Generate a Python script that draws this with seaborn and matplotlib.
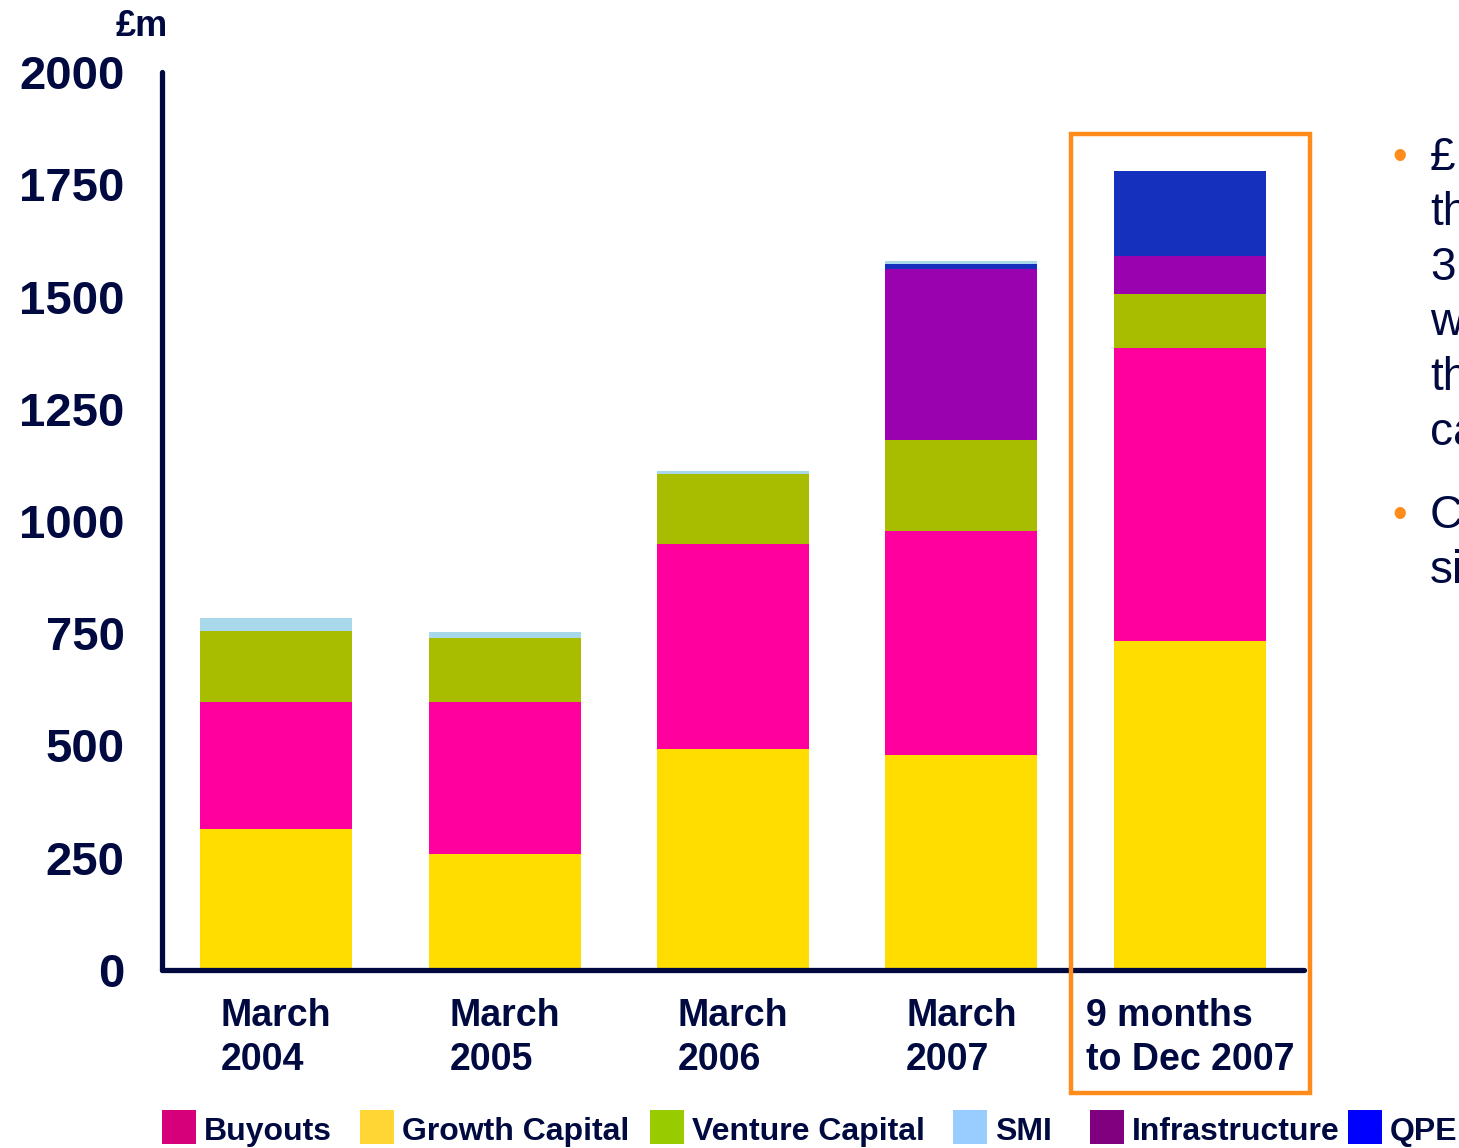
import numpy as np
import pandas as pd
import matplotlib
matplotlib.use("Agg")
import matplotlib.pyplot as plt
from matplotlib.patches import Rectangle
import seaborn as sns

sns.set_theme(style="white")
plt.rcParams['font.family'] = ['Liberation Sans', 'DejaVu Sans']

NAVY = "#000a40"

categories = ["March\n2004", "March\n2005", "March\n2006", "March\n2007", "9 months\nto Dec 2007"]
growth_capital = [314, 258, 492, 479, 733]
buyouts = [283, 339, 457, 499, 652]
venture_capital = [158, 142, 156, 202, 121]
infrastructure = [0, 0, 0, 381, 84]
qpe = [0, 0, 0, 11, 190]
smi = [29, 14, 6, 7, 0]
y_ticks = [0, 250, 500, 750, 1000, 1250, 1500, 1750, 2000]

# stacking order bottom -> top
series = [
    ("Growth Capital", growth_capital, "#ffdd00"),
    ("Buyouts", buyouts, "#ff009e"),
    ("Venture Capital", venture_capital, "#a8bc00"),
    ("Infrastructure", infrastructure, "#9b02af"),
    ("QPE", qpe, "#1530bd"),
    ("SMI", smi, "#a8d8ea"),
]
cum = np.cumsum(np.array([s[1] for s in series], dtype=float), axis=0)

fig = plt.figure(figsize=(14.59, 11.48), dpi=100)
ax = fig.add_axes([162/1459, 1-970/1148, (1304-162)/1459, (970-72)/1148])

# draw from top cumulative down so lower segments overwrite
for i in range(len(series) - 1, -1, -1):
    df = pd.DataFrame({"cat": categories, "val": cum[i]})
    sns.barplot(data=df, x="cat", y="val", color=series[i][2], width=0.665,
                saturation=1, ax=ax, linewidth=0, edgecolor="none")

ax.set_xlim(-0.5, 4.5)
ax.set_ylim(0, 2000)
ax.set_yticks(y_ticks)
ax.set_yticklabels([str(t) for t in y_ticks], fontsize=34, fontweight="bold", color=NAVY)
ax.tick_params(axis="y", length=0, pad=27)
ax.tick_params(axis="x", length=0, pad=20)
ax.set_xticks(range(len(categories)))
ax.set_xticklabels(categories, fontsize=27, fontweight="bold", color=NAVY,
                   multialignment="left", linespacing=1.3)
ax.set_xlabel("")
ax.set_ylabel("")
for s in ["top", "right"]:
    ax.spines[s].set_visible(False)
for s in ["left", "bottom"]:
    ax.spines[s].set_color(NAVY)
    ax.spines[s].set_linewidth(3.8)
    ax.spines[s].set_capstyle("round")
ax.grid(False)

# £m unit label
fig.text(116/1459, 1-27/1148, "£m", fontsize=26, fontweight="bold", color=NAVY,
         ha="left", va="center")

# orange highlight box
fig.patches.append(Rectangle((1071/1459, 1-1093/1148), (1310-1071)/1459, (1093-134)/1148,
                             transform=fig.transFigure, fill=False,
                             edgecolor="#ff8c1a", linewidth=3.2, zorder=5))

# legend (manual)
legend_items = [
    ("Buyouts", "#d6007a", 162),
    ("Growth Capital", "#ffd633", 360),
    ("Venture Capital", "#99cc00", 650),
    ("SMI", "#99ccff", 953),
    ("Infrastructure", "#800080", 1090),
    ("QPE", "#0000ff", 1348),
]
for name, col, x in legend_items:
    fig.patches.append(Rectangle((x/1459, 1-1144/1148), 34/1459, 34/1148,
                                 transform=fig.transFigure, facecolor=col,
                                 edgecolor="none"))
    fig.text((x + 42)/1459, 1-1132/1148, name, fontsize=23, fontweight="bold",
             color=NAVY, ha="left", va="center")

# bullet text on the right, clipped by the figure edge as in the reference
bullet_lines = [(158, "£"), (213, "th"), (268, "3"), (323, "w"), (378, "th"), (433, "ca"),
                (516, "C"), (571, "si")]
for y, t in bullet_lines:
    fig.text(1430/1459, 1-y/1148, t, fontsize=33, color=NAVY, ha="left", va="center")
for y in [158, 516]:
    fig.text(1400/1459, 1-y/1148, "•", fontsize=30, color="#ff8c1a", ha="center", va="center")

fig.savefig("out.png", dpi=100, facecolor="white")
